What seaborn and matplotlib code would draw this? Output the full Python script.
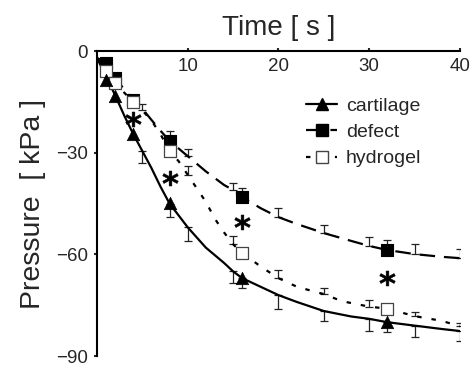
import numpy as np
import pandas as pd
import matplotlib
matplotlib.use("Agg")
import matplotlib.pyplot as plt
from matplotlib.lines import Line2D
import seaborn as sns

# ---------------- data ----------------
t_cart = [0, 1, 2, 3, 4, 5, 6, 7, 8, 9, 10, 12, 14, 15, 16, 18, 20, 22, 25, 28, 30, 32, 35, 38, 40]
p_cart = [-2, -7.5, -13, -19, -24.5, -29.5, -34.5, -40, -45, -48.5, -52, -58, -62.5, -65, -67,
          -69.5, -72, -74, -76.7, -78.3, -79, -80, -81, -82, -82.6]

t_def = [0, 1, 2, 4, 5, 6, 7, 8, 10, 12, 13, 14, 15, 16, 18, 20, 22, 25, 28, 30, 32, 35, 38, 40]
p_def = [-2, -3.5, -8, -14.5, -17, -20.3, -23.5, -26.5, -31, -35.5, -37.5, -39.5, -41, -43,
         -46.3, -49, -51, -53.7, -56, -57.5, -58.7, -59.9, -60.7, -61.1]

t_hyd = [0, 1, 2, 4, 5, 6, 7, 8, 9, 10, 11, 12, 13, 14, 15, 16, 17, 18, 20, 22, 24, 25, 27, 30,
         32, 35, 38, 40]
p_hyd = [-2, -5.5, -9.5, -15, -17.5, -20.5, -24.5, -29.5, -32.5, -36.5, -40.5, -44.5, -49.5,
         -53.5, -57, -59.6, -61.5, -63.5, -67, -69.5, -71, -71.7, -73.8, -75.4, -76, -78.2,
         -79.6, -81.2]

mk_t = [1, 2, 4, 8, 16, 32]
mk_cart = [-8.5, -13.3, -24.5, -44.8, -67, -80]
mk_def = [-3.5, -8, -14.5, -26.5, -43, -58.7]
mk_hyd = [-6, -9.5, -15, -29.5, -59.6, -76]

cart_err_t = [5, 8, 10, 15, 16, 20, 25, 30, 32, 35, 40]
cart_err_p = [-29.5, -45, -52, -65, -67, -72, -76.7, -79, -80, -81, -82.6]
cart_err = [3.5, 4, 4, 3.5, 3, 4, 3, 3.5, 3, 3.4, 3]

def_err_t = [8, 10, 15, 16, 20, 25, 30, 32, 35, 40]
def_err_p = [-26.5, -31, -41, -43, -49, -53.7, -57.5, -58.7, -59.9, -61.1]
def_err = [3, 2, 2, 2.6, 2.7, 2.4, 2.6, 3, 3, 2.6]

hyd_err_t = [5, 10, 15, 20, 25, 30, 35, 40]
hyd_err_p = [-17.5, -36.5, -57, -67, -71.7, -75.4, -78.2, -81.2]
hyd_err = [2, 2.5, 2.5, 2.3, 1.8, 2, 1.3, 1]

ast_t = [4, 8, 16, 32]
ast_p = [-20, -37.5, -50.5, -67]

x_ticks = [10, 20, 30, 40]
y_ticks = [-90, -60, -30, 0]
series = ["cartilage", "defect", "hydrogel"]

# ---------------- style ----------------
sns.set_style("white")
plt.rcParams["font.family"] = ["Liberation Sans", "DejaVu Sans"]
plt.rcParams["axes.unicode_minus"] = True

fig = plt.figure(figsize=(4.74, 3.66), dpi=100)
ax = fig.add_axes([0.2046, 0.027, 0.7658, 0.8334])

LW = 1.6
ls_def = (0, (7, 4))
ls_hyd = (0, (2, 4.5))

# error bars
eb_kw = dict(fmt="none", ecolor="#222222", elinewidth=0.9, capsize=2.6, capthick=0.9, zorder=2)
ax.errorbar(cart_err_t, cart_err_p, yerr=[cart_err, np.zeros(len(cart_err))], **eb_kw)
ax.errorbar(def_err_t, def_err_p, yerr=[np.zeros(len(def_err)), def_err], **eb_kw)
ax.errorbar(hyd_err_t, hyd_err_p, yerr=[np.zeros(len(hyd_err)), hyd_err], **eb_kw)

# curves
sns.lineplot(x=t_def, y=p_def, ax=ax, color="black", lw=LW, linestyle=ls_def, zorder=3)
sns.lineplot(x=t_hyd, y=p_hyd, ax=ax, color="black", lw=LW, linestyle=ls_hyd, zorder=3)
sns.lineplot(x=t_cart, y=p_cart, ax=ax, color="black", lw=LW, zorder=3)

# markers
sns.scatterplot(x=mk_t, y=mk_def, ax=ax, marker="s", s=72, color="black",
                edgecolor="black", linewidth=0.8, zorder=4, clip_on=False)
sns.scatterplot(x=mk_t, y=mk_hyd, ax=ax, marker="s", s=72, color="white",
                edgecolor="#444444", linewidth=0.9, zorder=5, clip_on=False)
sns.scatterplot(x=mk_t, y=mk_cart, ax=ax, marker="^", s=80, color="black",
                edgecolor="black", linewidth=0.5, zorder=6, clip_on=False)

# significance asterisks
sns.scatterplot(x=ast_t, y=ast_p, ax=ax, marker=r"$\mathbf{*}$", s=125, color="black",
                edgecolor="black", linewidth=0.4, zorder=7)

# axes
ax.set_xlim(0, 40)
ax.set_ylim(-90, 0)
ax.set_xticks(x_ticks)
ax.set_yticks(y_ticks)
for s in ["bottom", "right"]:
    ax.spines[s].set_visible(False)
for s in ["top", "left"]:
    ax.spines[s].set_linewidth(1.5)
    ax.spines[s].set_color("black")

ax.xaxis.set_ticks_position("top")
ax.xaxis.set_label_position("top")
ax.tick_params(axis="x", top=True, bottom=False, labeltop=True, labelbottom=False,
               direction="out", length=2.5, width=1.5, pad=-20, labelsize=13.5)
ax.tick_params(axis="y", left=True, direction="out", length=2.5, width=1.5, pad=4,
               labelsize=13.5)
ax.set_xlabel("Time [ s ]", fontsize=20, labelpad=9)
ax.set_ylabel("Pressure  [ kPa ]", fontsize=20.5, labelpad=7)

handles = [
    Line2D([], [], color="black", lw=LW, marker="^", markersize=9),
    Line2D([], [], color="black", lw=LW, linestyle=ls_def, marker="s", markersize=8.5),
    Line2D([], [], color="black", lw=LW, linestyle=ls_hyd, marker="s", markersize=8.5,
           markerfacecolor="white", markeredgecolor="#444444"),
]
ax.legend(handles, series, loc="upper left", bbox_to_anchor=(306 / 474, 1 - 97 / 366),
          bbox_transform=fig.transFigure, frameon=False, fontsize=14, handlelength=1.6,
          handletextpad=0.45, labelspacing=0.45, borderpad=0, borderaxespad=0)

fig.savefig("out.png", dpi=100)
